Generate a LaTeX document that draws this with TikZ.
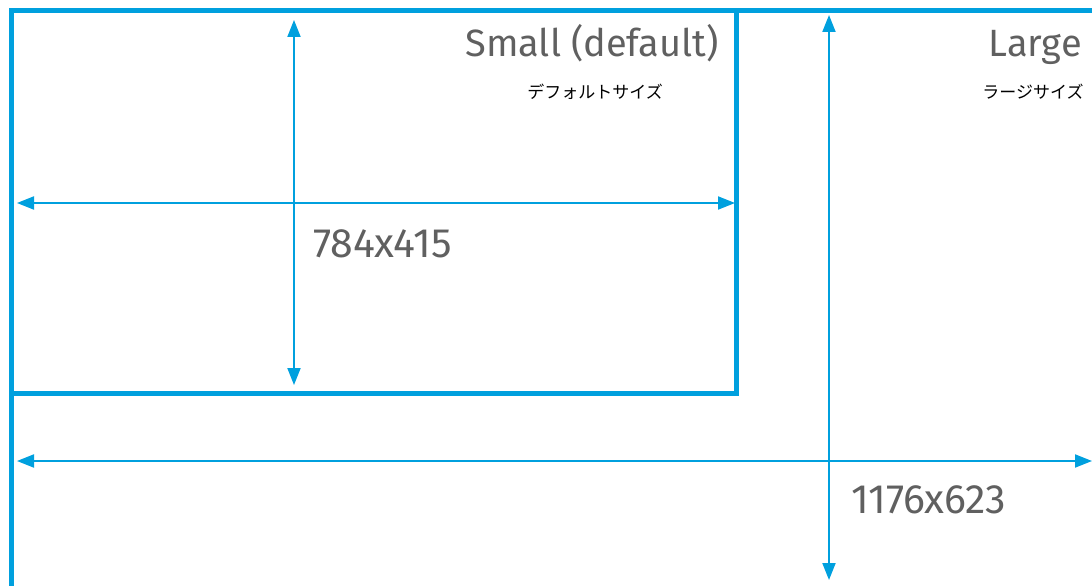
\documentclass[tikz,border=0pt]{standalone}
\usepackage{fontspec}
\setmainfont{Fira Sans}
\newfontfamily\jpfont{Noto Sans CJK JP}
\usetikzlibrary{arrows.meta}
\definecolor{accent}{RGB}{0,160,222}
\definecolor{txt}{RGB}{96,96,96}
\begin{document}
\begin{tikzpicture}[x=1pt,y=-1pt,
  frame/.style={draw=accent,line width=5pt},
  dim/.style={draw=accent,line width=2pt,{Triangle[length=17pt,width=13pt]}-{Triangle[length=17pt,width=13pt]}},
  title/.style={text=txt,inner sep=0pt,font=\fontsize{38}{46}\selectfont},
  big/.style={text=txt,inner sep=0pt,font=\fontsize{41}{49}\selectfont},
  jp/.style={text=black,inner sep=0pt,font=\jpfont\fontsize{17}{20}\selectfont}]
\useasboundingbox (0,0) rectangle (1092,586);
\clip (0,0) rectangle (1092,586);
% frames
\draw[frame] (11,600) -- (11,11) -- (1110,11);
\draw[frame] (11,11) rectangle (736,393);
% coordinates
\coordinate (sT) at (294,20);
\coordinate (sB) at (294,385);
\coordinate (sL) at (17,203);
\coordinate (sR) at (735,203);
\coordinate (lT) at (829,15);
\coordinate (lB) at (829,580);
\coordinate (lL) at (17,461);
\coordinate (lR) at (1092,461);
\draw[dim] (sT) -- (sB);
\draw[dim] (sL) -- (sR);
\draw[dim] (lT) -- (lB);
\draw[dim] (lL) -- (lR);
% labels
\node[title,anchor=base east] (small) at (719,57) {Small (default)};
\node[jp] (smalljp) at (595,91.5) {デフォルトサイズ};
\node[title,anchor=base east] (large) at (1082,57) {Large};
\node[jp] (largejp) at (1033,91.5) {ラージサイズ};
\node[big,anchor=base west] (sdim) at (313,257) {784x415};
\node[big,anchor=base west] (ldim) at (851,513) {1176x623};
\end{tikzpicture}
\end{document}
